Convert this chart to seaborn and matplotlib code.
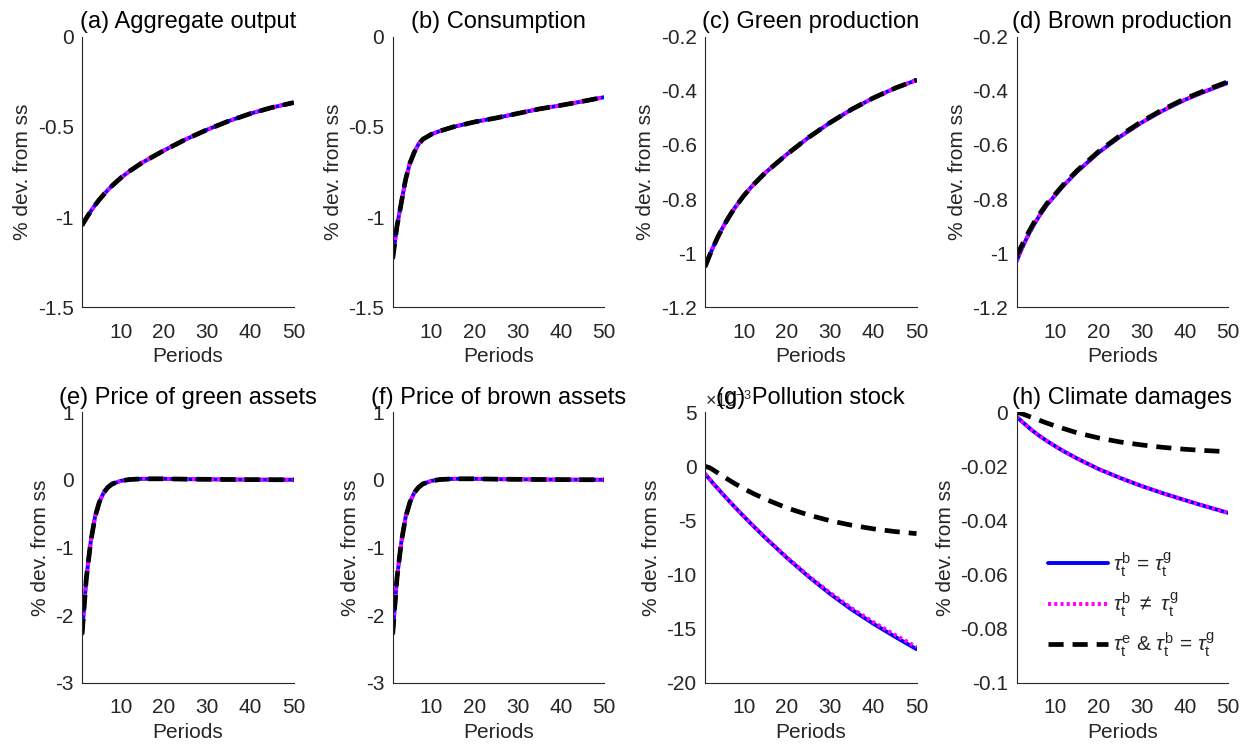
import numpy as np
import seaborn as sns
import matplotlib.pyplot as plt
from matplotlib.ticker import FuncFormatter

sns.set_style("white")
plt.rcParams['font.family'] = ['Liberation Sans', 'DejaVu Sans']
plt.rcParams['mathtext.fontset'] = 'custom'
plt.rcParams['mathtext.rm'] = 'Liberation Sans'
plt.rcParams['mathtext.it'] = 'Liberation Sans:italic'
plt.rcParams['axes.unicode_minus'] = False

periods = [1, 2, 3, 4, 5, 6, 7, 8, 10, 12, 15, 20, 25, 30, 35, 40, 45, 50]

# (a) aggregate output, all three scenarios overlap
output = [-1.045, -1.005, -0.968, -0.934, -0.903, -0.875, -0.849, -0.825, -0.782, -0.745,
          -0.697, -0.63, -0.569, -0.515, -0.467, -0.426, -0.392, -0.365]
# (b) consumption
consumption = [-1.23, -1.05, -0.92, -0.79, -0.70, -0.64, -0.595, -0.568, -0.54, -0.522,
               -0.50, -0.472, -0.45, -0.425, -0.40, -0.38, -0.358, -0.335]
# (c) green production
green_prod = [-1.05, -1.01, -0.973, -0.939, -0.908, -0.88, -0.854, -0.83, -0.787, -0.75,
              -0.702, -0.634, -0.572, -0.517, -0.468, -0.426, -0.39, -0.36]
# (d) brown production
brown_prod = [-1.03, -0.991, -0.956, -0.924, -0.895, -0.869, -0.845, -0.822, -0.785, -0.748,
              -0.699, -0.628, -0.569, -0.517, -0.472, -0.433, -0.40, -0.37]
brown_prod_etax = [-1.01, -0.978, -0.946, -0.916, -0.888, -0.863, -0.84, -0.817, -0.781, -0.744,
                   -0.695, -0.624, -0.565, -0.513, -0.468, -0.429, -0.396, -0.366]
# (e), (f) asset prices
price_green = [-2.28, -1.45, -0.92, -0.55, -0.33, -0.19, -0.11, -0.06, -0.015, 0.005,
               0.015, 0.015, 0.01, 0.008, 0.005, 0.003, 0.002, 0.001]
price_brown = [-2.28, -1.45, -0.92, -0.55, -0.33, -0.19, -0.11, -0.06, -0.015, 0.005,
               0.015, 0.015, 0.01, 0.008, 0.005, 0.003, 0.002, 0.001]
# (g) pollution stock, in units of 1e-3
pollution_same = [-0.7, -1.17, -1.63, -2.08, -2.52, -2.96, -3.39, -3.81, -4.64, -5.45,
                  -6.62, -8.47, -10.2, -11.8, -13.25, -14.55, -15.75, -16.9]
pollution_diff = [-0.7, -1.17, -1.63, -2.08, -2.52, -2.96, -3.39, -3.81, -4.63, -5.43,
                  -6.59, -8.42, -10.13, -11.7, -13.12, -14.4, -15.57, -16.7]
pollution_etax = [0.0, -0.12, -0.36, -0.62, -0.88, -1.13, -1.38, -1.62, -2.07, -2.48,
                  -3.04, -3.85, -4.5, -5.03, -5.45, -5.78, -6.03, -6.22]
# (h) climate damages
damages_same = [-0.0016, -0.0031, -0.0045, -0.0059, -0.0072, -0.0084, -0.0095, -0.0106, -0.0126, -0.0145,
                -0.0171, -0.021, -0.0243, -0.0273, -0.030, -0.0325, -0.0349, -0.0372]
damages_etax = [0.0, -0.0004, -0.001, -0.0016, -0.0022, -0.0028, -0.0034, -0.004, -0.0051, -0.0061,
                -0.0076, -0.0095, -0.011, -0.0121, -0.013, -0.0137, -0.0142, -0.0146]

labels = [r'$\tau_\mathrm{t}^\mathrm{b}$ = $\tau_\mathrm{t}^\mathrm{g}$',
          r'$\tau_\mathrm{t}^\mathrm{b}$ $\neq$ $\tau_\mathrm{t}^\mathrm{g}$',
          r'$\tau_\mathrm{t}^\mathrm{e}$ & $\tau_\mathrm{t}^\mathrm{b}$ = $\tau_\mathrm{t}^\mathrm{g}$']

panels = [
    ('(a) Aggregate output', (output, output, output), (-1.5, 0), [-1.5, -1, -0.5, 0]),
    ('(b) Consumption', (consumption, consumption, consumption), (-1.5, 0), [-1.5, -1, -0.5, 0]),
    ('(c) Green production', (green_prod, green_prod, green_prod), (-1.2, -0.2), [-1.2, -1, -0.8, -0.6, -0.4, -0.2]),
    ('(d) Brown production', (brown_prod, brown_prod, brown_prod_etax), (-1.2, -0.2), [-1.2, -1, -0.8, -0.6, -0.4, -0.2]),
    ('(e) Price of green assets', (price_green, price_green, price_green), (-3, 1), [-3, -2, -1, 0, 1]),
    ('(f) Price of brown assets', (price_brown, price_brown, price_brown), (-3, 1), [-3, -2, -1, 0, 1]),
    ('(g) Pollution stock', (pollution_same, pollution_diff, pollution_etax), (-20, 5), [-20, -15, -10, -5, 0, 5]),
    ('(h) Climate damages', (damages_same, damages_same, damages_etax), (-0.1, 0), [-0.1, -0.08, -0.06, -0.04, -0.02, 0]),
]

fig = plt.figure(figsize=(12.49, 7.48), dpi=100)
lefts = [0.0657, 0.3144, 0.5645, 0.8139]
bottoms = [0.5892, 0.0873]
w, h = 0.1693, 0.3616
grey = '#262626'

for i, (title, series, ylim, yticks) in enumerate(panels):
    ax = fig.add_axes([lefts[i % 4], bottoms[i // 4], w, h])
    s_blue, s_mag, s_blk = series
    sns.lineplot(x=periods, y=s_blue, ax=ax, color='blue', linewidth=2.8, label=labels[0])
    sns.lineplot(x=periods, y=s_mag, ax=ax, color='magenta', linewidth=2.8,
                 linestyle=(0, (0.8, 0.8)), label=labels[1])
    sns.lineplot(x=periods, y=s_blk, ax=ax, color='black', linewidth=3.4,
                 linestyle=(0, (3.2, 1.9)), label=labels[2])
    ax.set_xlim(1, 50)
    ax.set_ylim(*ylim)
    ax.set_xticks([10, 20, 30, 40, 50])
    ax.set_yticks(yticks)
    ax.yaxis.set_major_formatter(FuncFormatter(lambda v, p: f'{v:g}'))
    ax.tick_params(direction='in', length=4, width=0.8, labelsize=15, colors=grey, pad=6)
    ax.tick_params(axis='x', pad=11)
    for side in ['top', 'right']:
        ax.spines[side].set_visible(False)
    for side in ['left', 'bottom']:
        ax.spines[side].set_color(grey)
        ax.spines[side].set_linewidth(0.8)
    ax.set_title(title, fontsize=17, pad=6, color='black')
    ax.set_xlabel('Periods', fontsize=15, color=grey)
    ax.set_ylabel('% dev. from ss', fontsize=15, color=grey)
    if i == 6:
        ax.text(0.0, 1.005, r'$\times 10^{-3}$', transform=ax.transAxes, fontsize=13,
                color=grey, ha='left', va='bottom')
    if i == 7:
        ax.legend(loc='upper left', bbox_to_anchor=(0.06, 0.56), frameon=False,
                  fontsize=15, handlelength=2.9, labelspacing=0.55, handletextpad=0.2)
    else:
        ax.get_legend().remove()

fig.savefig('out.png', dpi=100)
